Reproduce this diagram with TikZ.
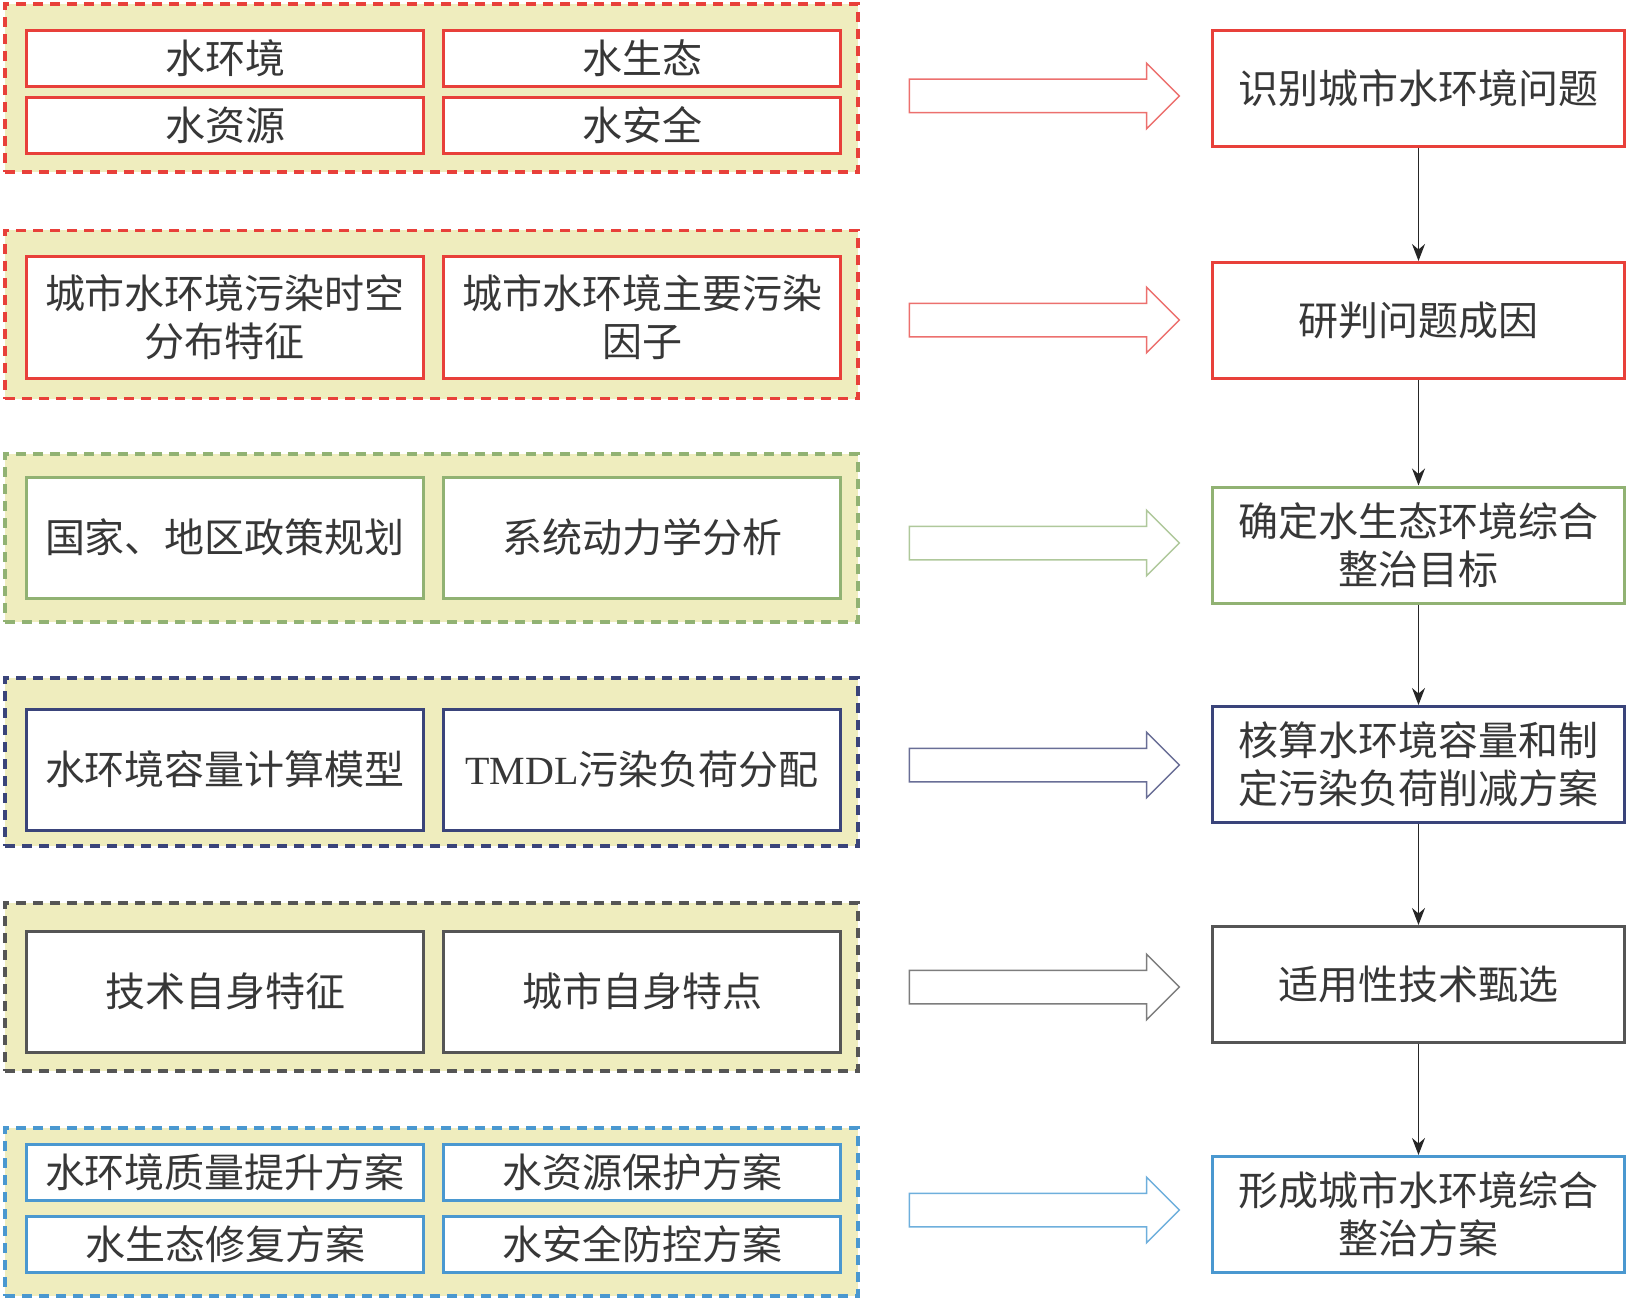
\documentclass[tikz,border=0pt]{standalone}
\usepackage{fontspec}
\setmainfont{Noto Sans CJK SC}
\newfontfamily\latinrm{Liberation Serif}
\usetikzlibrary{arrows.meta,shapes.arrows}
\definecolor{padyellow}{RGB}{239,237,190}
\definecolor{txtgray}{RGB}{55,55,55}
\definecolor{redc}{RGB}{232,64,58}
\definecolor{greenc}{RGB}{145,178,115}
\definecolor{navyc}{RGB}{58,68,122}
\definecolor{grayc}{RGB}{85,85,85}
\definecolor{bluec}{RGB}{74,152,208}
\definecolor{redarr}{RGB}{236,112,110}
\definecolor{greenarr}{RGB}{175,200,155}
\definecolor{navyarr}{RGB}{105,110,150}
\definecolor{grayarr}{RGB}{125,125,125}
\definecolor{bluearr}{RGB}{110,175,220}

\begin{document}
\begin{tikzpicture}[x=1pt,y=-1pt,
    grp/.style={draw=#1,dash pattern=on 10pt off 7pt,line width=3.5pt,fill=padyellow,minimum width=853pt,minimum height=168pt,inner sep=0pt},
    item/.style={draw=#1,line width=3pt,fill=white,minimum width=397pt,minimum height=121pt,align=center,inner sep=0pt,text=txtgray,font=\fontsize{40}{48}\selectfont},
    stage/.style={draw=#1,line width=3pt,fill=white,minimum width=412pt,minimum height=116pt,align=center,inner sep=0pt,text=txtgray,font=\fontsize{40}{48}\selectfont},
    harrow/.style={single arrow,draw=#1,fill=white,line width=1.5pt,minimum height=270pt,inner xsep=0pt,inner ysep=16pt,single arrow head extend=16pt},
    link/.style={-{Stealth[length=17pt,width=13pt]},line width=1.5pt,black!85}]

    \useasboundingbox (0,0) rectangle (1631,1300);

    % row 1
    \node[grp=redc] (g1) at (431.5,88) {};
    \node[item=redc,minimum height=56pt] (env) at (225,58.5) {水环境};
    \node[item=redc,minimum height=56pt] (eco) at (642,58.5) {水生态};
    \node[item=redc,minimum height=56pt] (res) at (225,125.5) {水资源};
    \node[item=redc,minimum height=56pt] (saf) at (642,125.5) {水安全};
    \node[harrow=redarr] (a1) at (1036,96) {};
    \node[stage=redc] (s1) at (1418.5,88.5) {识别城市水环境问题};

    % row 2
    \node[grp=redc] (g2) at (431.5,314.5) {};
    \node[item=redc] (spread) at (225,317.5) {城市水环境污染时空\\分布特征};
    \node[item=redc] (factor) at (642,317.5) {城市水环境主要污染\\因子};
    \node[harrow=redarr] (a2) at (1036,320) {};
    \node[stage=redc] (s2) at (1418.5,320.5) {研判问题成因};

    % row 3
    \node[grp=greenc] (g3) at (431.5,538) {};
    \node[item=greenc] (policy) at (225,537.5) {国家、地区政策规划};
    \node[item=greenc] (sysdyn) at (642,537.5) {系统动力学分析};
    \node[harrow=greenarr] (a3) at (1036,543) {};
    \node[stage=greenc] (s3) at (1418.5,545) {确定水生态环境综合\\整治目标};

    % row 4
    \node[grp=navyc] (g4) at (431.5,762) {};
    \node[item=navyc] (capmodel) at (225,769.5) {水环境容量计算模型};
    \node[item=navyc] (tmdl) at (642,769.5) {{\latinrm TMDL}污染负荷分配};
    \node[harrow=navyarr] (a4) at (1036,765) {};
    \node[stage=navyc] (s4) at (1418.5,764.5) {核算水环境容量和制\\定污染负荷削减方案};

    % row 5
    \node[grp=grayc] (g5) at (431.5,987) {};
    \node[item=grayc] (techfeat) at (225,991.5) {技术自身特征};
    \node[item=grayc] (cityfeat) at (642,991.5) {城市自身特点};
    \node[harrow=grayarr] (a5) at (1036,987) {};
    \node[stage=grayc] (s5) at (1418.5,984.5) {适用性技术甄选};

    % row 6
    \node[grp=bluec] (g6) at (431.5,1212) {};
    \node[item=bluec,minimum height=56pt] (quality) at (225,1172.5) {水环境质量提升方案};
    \node[item=bluec,minimum height=56pt] (protect) at (642,1172.5) {水资源保护方案};
    \node[item=bluec,minimum height=56pt] (restore) at (225,1244) {水生态修复方案};
    \node[item=bluec,minimum height=56pt] (defend) at (642,1244) {水安全防控方案};
    \node[harrow=bluearr] (a6) at (1036,1210) {};
    \node[stage=bluec] (s6) at (1418.5,1214.5) {形成城市水环境综合\\整治方案};

    \draw[link] (s1) -- (s2);
    \draw[link] (s2) -- (s3);
    \draw[link] (s3) -- (s4);
    \draw[link] (s4) -- (s5);
    \draw[link] (s5) -- (s6);
\end{tikzpicture}
\end{document}
